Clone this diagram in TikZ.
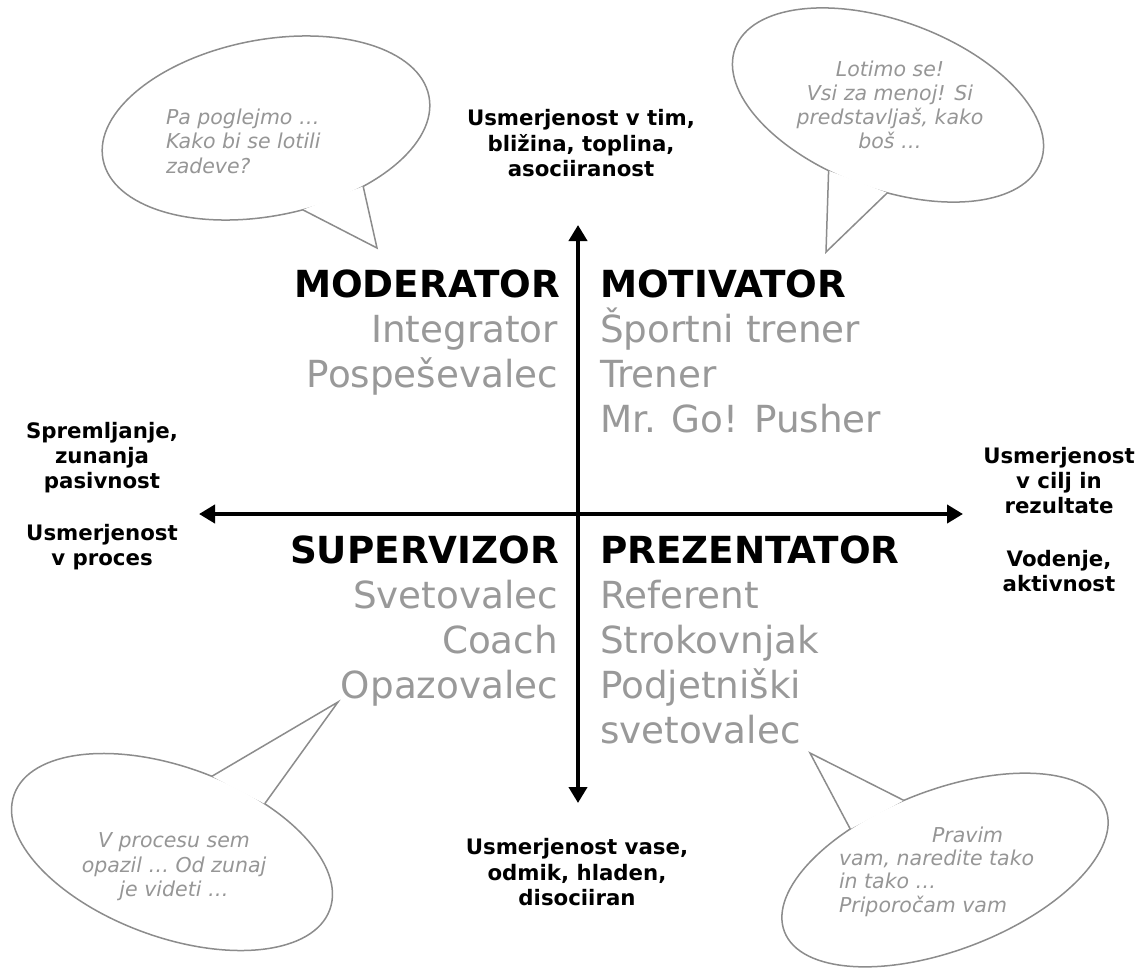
\documentclass[tikz,border=0pt]{standalone}
\usepackage{fontspec}
\setmainfont{DejaVu Sans}
\usetikzlibrary{arrows.meta}
\definecolor{rolegray}{RGB}{153,153,153}
\definecolor{bubblegray}{RGB}{140,140,140}
\definecolor{speechgray}{RGB}{150,150,150}
\begin{document}
\begin{tikzpicture}[x=1pt,y=-1pt,
  every node/.style={inner sep=0pt, outer sep=0pt},
  role/.style={font=\fontsize{37.3}{44.8}\selectfont\bfseries, text=black},
  alias/.style={font=\fontsize{37.3}{44.8}\selectfont, text=rolegray},
  pole/.style={font=\fontsize{21.3}{25.6}\selectfont\bfseries, text=black},
  speech/.style={font=\fontsize{20.5}{24}\selectfont\itshape, text=speechgray},
  bubble/.style={draw=bubblegray, line width=1.5pt, fill=white},
  tailfill/.style={fill=white},
  tailline/.style={draw=bubblegray, line width=1.5pt, line join=miter},
  axis/.style={line width=4.5pt,
    {Triangle[length=16pt,width=18pt]}-{Triangle[length=16pt,width=18pt]}},
]
\fill[white] (0,0) rectangle (1142,969);
\useasboundingbox (0,0) rectangle (1142,969);

% ---------- speech bubbles: ellipse + wedge ----------
% top left
\begin{scope}[shift={(266,128)}, rotate=11]
  \draw[bubble] (0,0) ellipse [x radius=166, y radius=88];
  \coordinate (ba1) at (82.9:166 and 88);
  \coordinate (ba2) at (59.5:166 and 88);
\end{scope}
\coordinate (tipA) at (377,248);
\fill[tailfill] (ba1) -- (tipA) -- (ba2) -- cycle;
\draw[tailline] (ba1) -- (tipA) -- (ba2);

% top right
\begin{scope}[shift={(888,105)}, rotate=-20.4]
  \draw[bubble] (0,0) ellipse [x radius=163, y radius=84];
  \coordinate (bb1) at (101.6:163 and 84);
  \coordinate (bb2) at (79.4:163 and 84);
\end{scope}
\coordinate (tipB) at (826,252);
\fill[tailfill] (bb1) -- (tipB) -- (bb2) -- cycle;
\draw[tailline] (bb1) -- (tipB) -- (bb2);

% bottom left
\begin{scope}[shift={(172,852)}, rotate=-20.1]
  \draw[bubble] (0,0) ellipse [x radius=168, y radius=85];
  \coordinate (bc1) at (-86.1:168 and 85);
  \coordinate (bc2) at (-65.2:168 and 85);
\end{scope}
\coordinate (tipC) at (338,702);
\fill[tailfill] (bc1) -- (tipC) -- (bc2) -- cycle;
\draw[tailline] (bc1) -- (tipC) -- (bc2);

% bottom right
\begin{scope}[shift={(945,870)}, rotate=21]
  \draw[bubble] (0,0) ellipse [x radius=172, y radius=80];
  \coordinate (bd1) at (-94.5:172 and 80);
  \coordinate (bd2) at (-115.4:172 and 80);
\end{scope}
\coordinate (tipD) at (810,753);
\fill[tailfill] (bd1) -- (tipD) -- (bd2) -- cycle;
\draw[tailline] (bd1) -- (tipD) -- (bd2);

% ---------- bubble texts ----------
\node[speech, anchor=base west] (sa1) at (166,124) {Pa poglejmo …};
\node[speech, anchor=base west] (sa2) at (166,148) {Kako bi se lotili};
\node[speech, anchor=base west] (sa3) at (166,173) {zadeve?};

\node[speech, anchor=base] (sb1) at (890,76) {Lotimo se!};
\node[speech, anchor=base] (sb2) at (890,100) {Vsi za menoj! Si};
\node[speech, anchor=base] (sb3) at (890,124) {predstavljaš, kako};
\node[speech, anchor=base] (sb4) at (890,148) {boš …};

\node[speech, anchor=base] (sc1) at (174,847) {V procesu sem};
\node[speech, anchor=base] (sc2) at (174,872) {opazil … Od zunaj};
\node[speech, anchor=base] (sc3) at (174,896) {je videti …};

\node[speech, anchor=base west] (sd1) at (932,842) {Pravim};
\node[speech, anchor=base west] (sd2) at (839,865) {vam, naredite tako};
\node[speech, anchor=base west] (sd3) at (839,888) {in tako …};
\node[speech, anchor=base west] (sd4) at (839,912) {Priporočam vam};

% ---------- axes ----------
\coordinate (axN) at (578,225);
\coordinate (axS) at (578,803);
\coordinate (axW) at (199,514);
\coordinate (axE) at (963,514);
\draw[axis] (axW) -- (axE);
\draw[axis] (axN) -- (axS);

% ---------- pole labels ----------
\node[pole, anchor=base] (n1) at (581,125) {Usmerjenost v tim,};
\node[pole, anchor=base] (n2) at (581,151) {bližina, toplina,};
\node[pole, anchor=base] (n3) at (581,176) {asociiranost};

\node[pole, anchor=base] (s1) at (577,854) {Usmerjenost vase,};
\node[pole, anchor=base] (s2) at (577,880) {odmik, hladen,};
\node[pole, anchor=base] (s3) at (577,905) {disociiran};

\node[pole, anchor=base] (w1) at (102,438) {Spremljanje,};
\node[pole, anchor=base] (w2) at (102,463) {zunanja};
\node[pole, anchor=base] (w3) at (102,488) {pasivnost};
\node[pole, anchor=base] (w4) at (102,540) {Usmerjenost};
\node[pole, anchor=base] (w5) at (102,565) {v proces};

\node[pole, anchor=base] (e1) at (1059,463) {Usmerjenost};
\node[pole, anchor=base] (e2) at (1059,488) {v cilj in};
\node[pole, anchor=base] (e3) at (1059,513) {rezultate};
\node[pole, anchor=base] (e4) at (1059,566) {Vodenje,};
\node[pole, anchor=base] (e5) at (1059,591) {aktivnost};

% ---------- quadrant roles ----------
\node[role, anchor=base east] (mod) at (560,297) {MODERATOR};
\node[alias, anchor=base east] (mod1) at (558,342) {Integrator};
\node[alias, anchor=base east] (mod2) at (558,387) {Pospeševalec};

\node[role, anchor=base west] (mot) at (600,297) {MOTIVATOR};
\node[alias, anchor=base west] (mot1) at (600,342) {Športni trener};
\node[alias, anchor=base west] (mot2) at (600,387) {Trener};
\node[alias, anchor=base west] (mot3) at (600,432) {Mr. Go! Pusher};

\node[role, anchor=base east] (sup) at (559,563) {SUPERVIZOR};
\node[alias, anchor=base east] (sup1) at (558,608) {Svetovalec};
\node[alias, anchor=base east] (sup2) at (558,653) {Coach};
\node[alias, anchor=base east] (sup3) at (558,698) {Opazovalec};

\node[role, anchor=base west] (pre) at (600,563) {PREZENTATOR};
\node[alias, anchor=base west] (pre1) at (600,608) {Referent};
\node[alias, anchor=base west] (pre2) at (600,653) {Strokovnjak};
\node[alias, anchor=base west] (pre3) at (600,698) {Podjetniški};
\node[alias, anchor=base west] (pre4) at (600,743) {svetovalec};
\end{tikzpicture}
\end{document}
